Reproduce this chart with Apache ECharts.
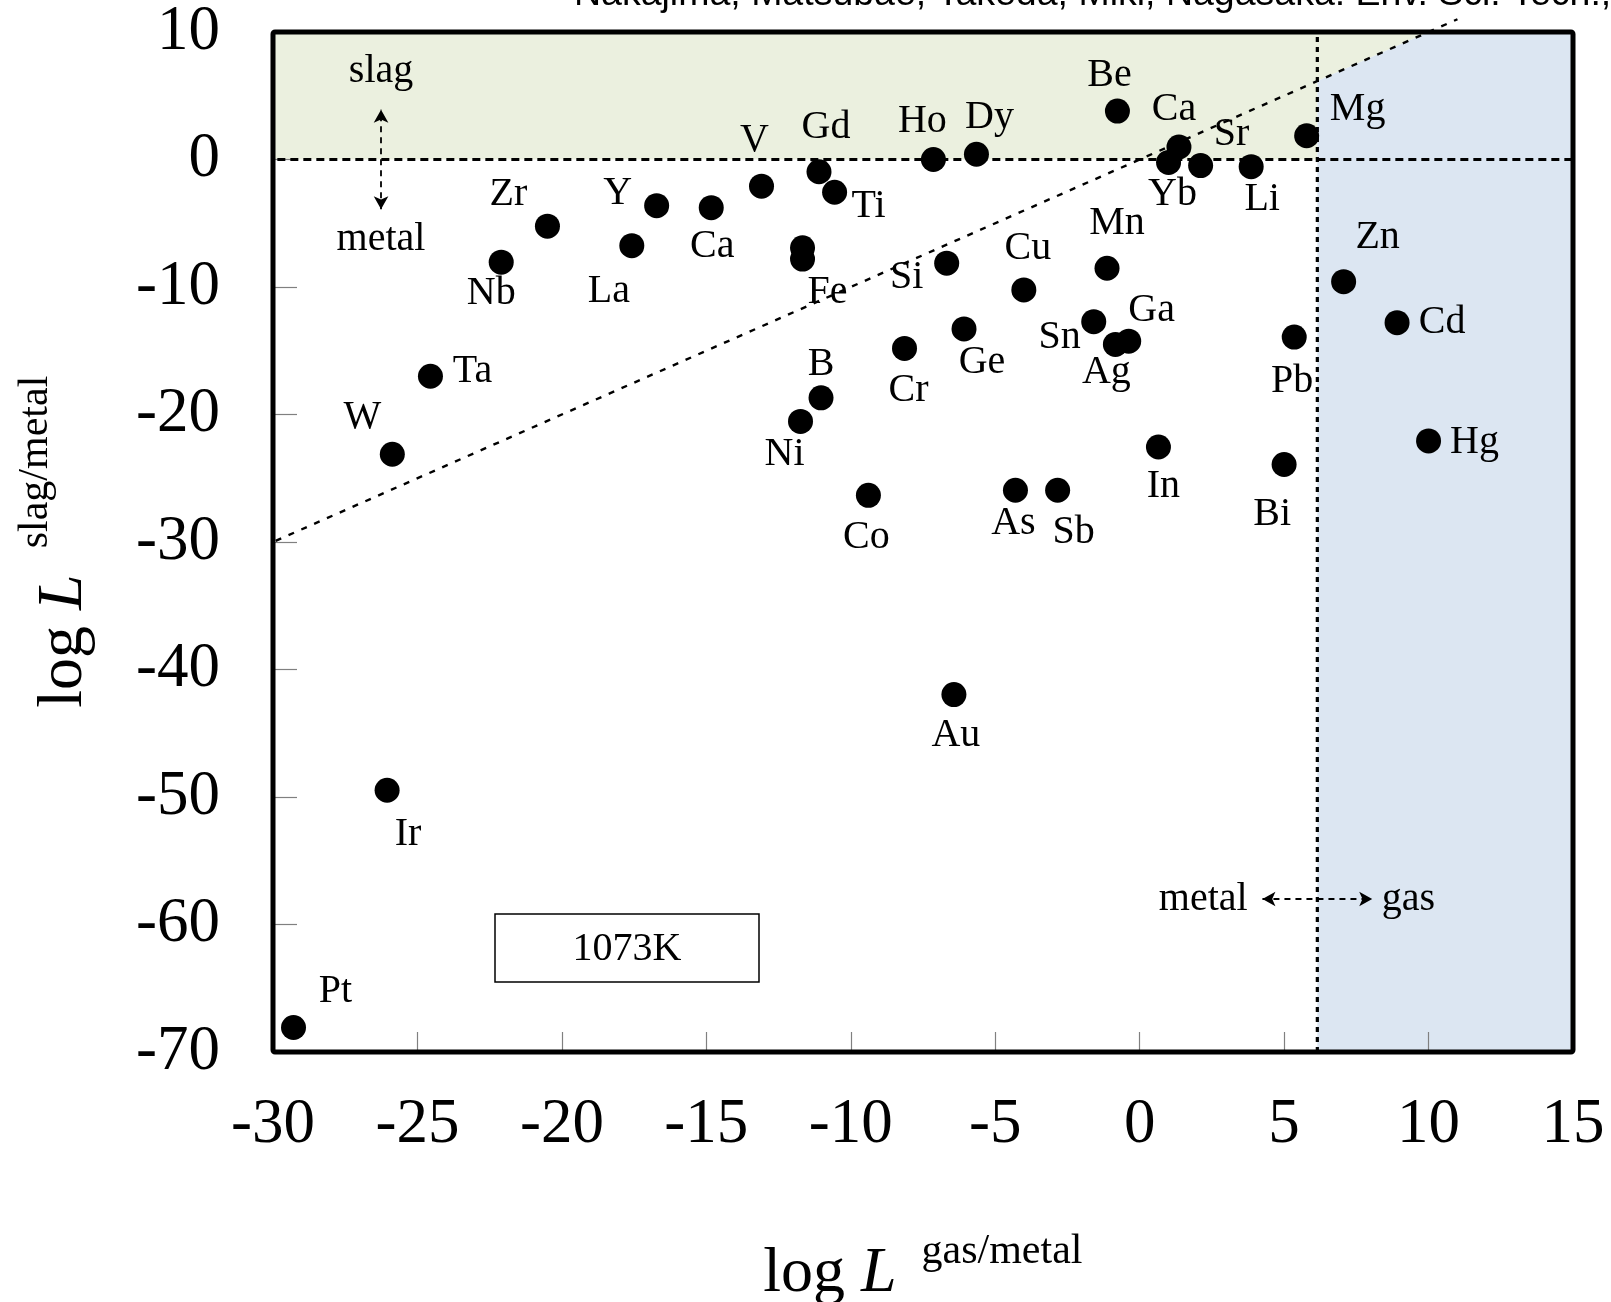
<!DOCTYPE html>
<html>
<head>
<meta charset="utf-8">
<script src="https://cdn.jsdelivr.net/npm/echarts@6/dist/echarts.min.js"></script>
<style>
  html, body { margin: 0; padding: 0; background: #fff; }
  #chart { width: 1611px; height: 1302px; }
</style>
</head>
<body>
<div id="chart"></div>
<script>
// elements and their log L values
const elements = ['Be', 'Ca', 'Yb', 'Sr', 'Li', 'Mg', 'Ho', 'Dy', 'Gd', 'V', 'Ti', 'Y', 'Ca', 'Zr', 'La', 'Nb',
  'Fe', 'Fe', 'Si', 'Cu', 'Mn', 'Sn', 'Ag', 'Ga', 'Ge', 'Cr', 'Pb', 'Zn', 'Cd', 'Hg', 'Ta', 'W', 'B', 'Ni',
  'In', 'Bi', 'Co', 'As', 'Sb', 'Au', 'Ir', 'Pt']
const logGasMetal = [-0.77, 1.36, 1.0, 2.11, 3.86, 5.78, -7.14, -5.65, -11.1, -13.09, -10.56, -16.72, -14.83, -20.5, -17.58, -22.1,
  -11.67, -11.67, -6.68, -4.01, -1.13, -1.59, -0.84, -0.38, -6.08, -8.14, 5.35, 7.06, 8.91, 10.0, -24.55, -25.87, -11.03, -11.74,
  0.65, 5.0, -9.39, -4.3, -2.84, -6.43, -26.05, -29.29]
const logSlagMetal = [3.8, 0.98, -0.23, -0.48, -0.56, 1.86, 0.0, 0.41, -0.96, -2.09, -2.57, -3.62, -3.78, -5.23, -6.76, -8.05,
  -6.92, -7.81, -8.13, -10.23, -8.53, -12.72, -14.5, -14.25, -13.29, -14.82, -13.93, -9.58, -12.8, -22.07, -17.0, -23.12, -18.69, -20.54,
  -22.55, -23.92, -26.34, -25.94, -25.94, -41.97, -49.47, -68.08]
// the upper Fe point carries no label of its own
const showLabel = elements.map((e, i) => i !== 16)

// label offsets from the dot, px
const labelOffsets = [[-8, -36], [-5, -38], [4, 32], [31, -31], [11, 33], [51, -26], [-11, -38], [13, -37], [7, -44], [-7, -46],
  [34, 14], [-39, -12], [1, 39], [-39, -32], [-23, 46], [-10, 31], [0, 0], [25, 33], [-40, 14], [4, -41], [10, -45], [-34, 16],
  [-9, 28], [23, -31], [18, 34], [4, 42], [-2, 44], [34, -44], [45, 0], [46, 2], [42, -5], [-30, -37], [0, -33], [-16, 33],
  [5, 39], [-12, 50], [-2, 42], [-2, 33], [16, 42], [2, 41], [21, 44], [42, -36]]

const xMin = -30
const xMax = 15
const yMin = -70
const yMax = 10
const gasBoundary = 6.15

// shaded regions
const slagRegion = [[xMin, 0], [xMin, yMax], [yMax, yMax], [gasBoundary, gasBoundary], [gasBoundary, 0]]
const gasRegion = [[gasBoundary, yMin], [gasBoundary, gasBoundary], [yMax, yMax], [xMax, yMax], [xMax, yMin]]
const regions = [slagRegion, gasRegion]
const regionColors = ['#EBF0DF', '#DCE6F2']

// guide lines
const zeroLine = [[-30.3, 0], [xMax, 0]]
const boundaryLine = [[gasBoundary, yMin], [gasBoundary, yMax]]
const diagonalLine = [[-30.35, -30.35], [11, 11]]

// annotation texts
const notes = [
  { name: 'slag', value: [-26.26, 6.9] },
  { name: 'metal', value: [-26.26, -6.3] },
  { name: 'metal', value: [2.2, -58.0] },
  { name: 'gas', value: [9.3, -58.0] }
]

const serif = "'Liberation Serif', 'Times New Roman', serif"
const chart = echarts.init(document.getElementById('chart'))

chart.setOption({
  backgroundColor: '#fff',
  animation: false,
  grid: { left: 273, right: 38, top: 32, bottom: 250 },
  xAxis: {
    type: 'value',
    min: xMin,
    max: xMax,
    interval: 5,
    axisLine: { show: false, onZero: false },
    axisTick: { show: true, inside: true, length: 20, lineStyle: { color: '#808080', width: 1.2 } },
    splitLine: { show: false },
    axisLabel: { margin: 42, color: '#000', fontFamily: serif, fontSize: 63 }
  },
  yAxis: {
    type: 'value',
    min: yMin,
    max: yMax,
    interval: 10,
    axisLine: { show: false, onZero: false },
    axisTick: { show: true, inside: true, length: 24, lineStyle: { color: '#808080', width: 1.2 } },
    splitLine: { show: false },
    axisLabel: { margin: 53, color: '#000', fontFamily: serif, fontSize: 63 }
  },
  graphic: [
    {
      type: 'text', x: 574, y: -5, silent: true,
      style: { text: 'Nakajima, Matsubae, Takeda, Miki, Nagasaka: Env. Sci. Tech.,', fill: '#000',
        font: "37.5px 'Liberation Sans Narrow', 'Liberation Sans', sans-serif", align: 'left', verticalAlign: 'middle' }
    },
    {
      type: 'rect', shape: { x: 495, y: 914, width: 264, height: 68 }, z: 50,
      style: { fill: '#fff', stroke: '#000', lineWidth: 1.5 }
    },
    {
      type: 'text', x: 627, y: 949, z: 51,
      style: { text: '1073K', fill: '#000', font: '40px ' + serif, align: 'center', verticalAlign: 'middle' }
    },
    {
      type: 'text', x: 830, y: 1274,
      style: { text: '{a|log }{b|L}', fill: '#000', align: 'center', verticalAlign: 'middle',
        rich: { a: { fontSize: 64, fontFamily: serif }, b: { fontSize: 64, fontFamily: serif, fontStyle: 'italic' } } }
    },
    {
      type: 'text', x: 1002, y: 1252,
      style: { text: 'gas/metal', fill: '#000', font: '42px ' + serif, align: 'center', verticalAlign: 'middle' }
    },
    {
      type: 'text', x: 64, y: 641, rotation: Math.PI / 2,
      style: { text: '{a|log }{b|L}', fill: '#000', align: 'center', verticalAlign: 'middle',
        rich: { a: { fontSize: 64, fontFamily: serif }, b: { fontSize: 64, fontFamily: serif, fontStyle: 'italic' } } }
    },
    {
      type: 'text', x: 36, y: 462, rotation: Math.PI / 2,
      style: { text: 'slag/metal', fill: '#000', font: '42px ' + serif, align: 'center', verticalAlign: 'middle' }
    }
  ],
  series: [
    {
      // shaded slag / gas regions
      type: 'custom',
      z: 0,
      silent: true,
      data: regions.map((r, i) => i),
      renderItem (params, api) {
        const pts = regions[params.dataIndex].map(p => api.coord(p))
        return {
          type: 'polygon',
          shape: { points: pts },
          style: { fill: regionColors[params.dataIndex], stroke: null }
        }
      }
    },
    {
      type: 'line', z: 3, clip: false, silent: true, symbol: 'none',
      data: zeroLine,
      lineStyle: { color: '#000', width: 3, type: [8, 5] },
      markLine: {
        silent: true,
        symbol: ['arrow', 'arrow'],
        symbolSize: [11, 13],
        label: { show: false },
        lineStyle: { color: '#000', width: 1.8, type: [6, 5] },
        data: [
          [{ coord: [-26.26, -3.9] }, { coord: [-26.26, 3.9] }],
          [{ coord: [4.25, -58.0] }, { coord: [8.05, -58.0] }]
        ]
      }
    },
    {
      type: 'line', z: 3, clip: false, silent: true, symbol: 'none',
      data: boundaryLine,
      lineStyle: { color: '#000', width: 3.2, type: [5, 5] }
    },
    {
      type: 'line', z: 3, clip: false, silent: true, symbol: 'none',
      data: diagonalLine,
      lineStyle: { color: '#000', width: 2.4, type: [6, 8] }
    },
    {
      type: 'scatter',
      z: 5,
      symbolSize: 25,
      itemStyle: { color: '#000', opacity: 1 },
      data: elements.map((e, i) => ({
        name: e,
        value: [logGasMetal[i], logSlagMetal[i]],
        label: { show: showLabel[i], offset: labelOffsets[i] }
      })),
      label: {
        position: 'inside',
        formatter: '{b}',
        color: '#000',
        opacity: 1,
        fontFamily: serif,
        fontSize: 40
      }
    },
    {
      type: 'scatter',
      z: 5,
      symbolSize: 0,
      silent: true,
      itemStyle: { opacity: 1 },
      data: notes,
      label: {
        show: true,
        position: 'inside',
        formatter: '{b}',
        color: '#000',
        opacity: 1,
        fontFamily: serif,
        fontSize: 40
      }
    },
    {
      // plot frame
      type: 'custom',
      z: 10,
      silent: true,
      data: [0],
      renderItem (params, api) {
        const a = api.coord([xMin, yMax])
        const b = api.coord([xMax, yMin])
        return {
          type: 'rect',
          shape: { x: a[0], y: a[1], width: b[0] - a[0], height: b[1] - a[1], r: 2 },
          style: { fill: null, stroke: '#000', lineWidth: 5, lineJoin: 'round' }
        }
      }
    }
  ]
})
</script>
</body>
</html>
